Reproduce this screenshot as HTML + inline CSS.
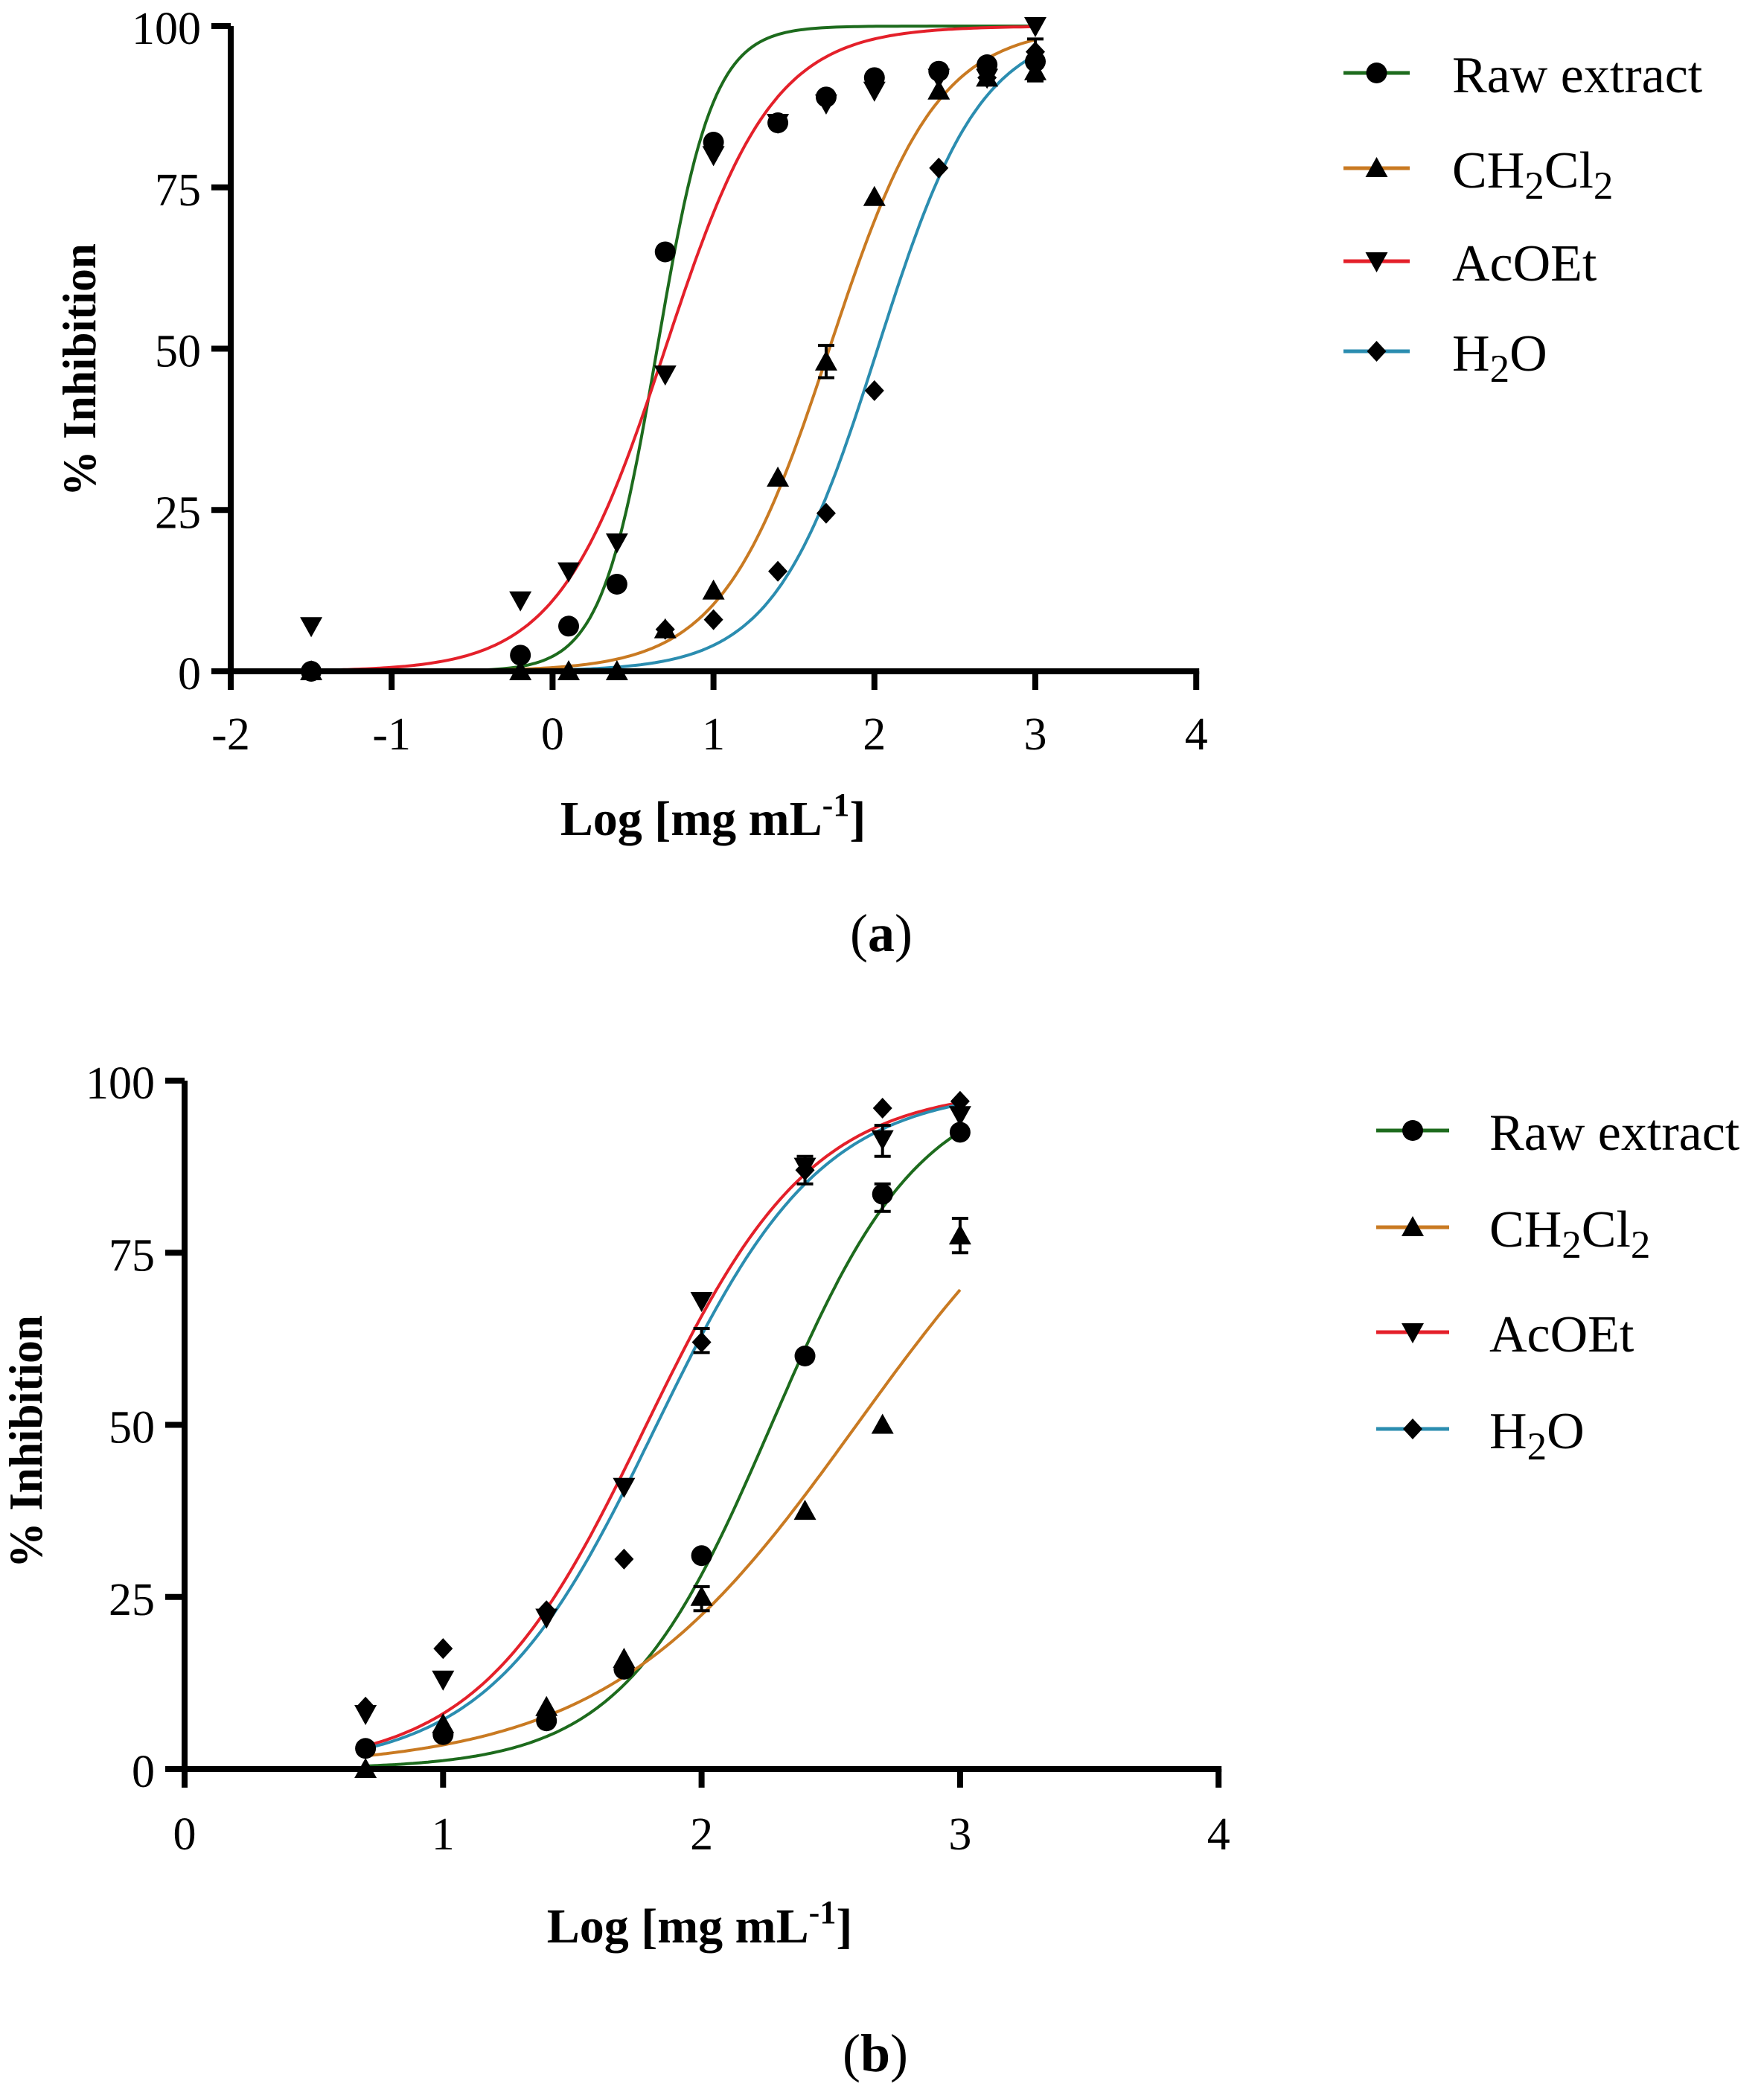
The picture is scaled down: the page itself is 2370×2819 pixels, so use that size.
<!DOCTYPE html>
<html><head><meta charset="utf-8"><style>
html,body{margin:0;padding:0;background:#fff;}
svg{display:block;}
text{font-family:"Liberation Serif",serif;fill:#000;}
</style></head><body>
<svg id="s" width="2370" height="2819" viewBox="0 0 2370 2819" xmlns="http://www.w3.org/2000/svg">
<rect width="2370" height="2819" fill="#fff"/>
</svg>
<script>
var NS="http://www.w3.org/2000/svg",S=document.getElementById('s');
function el(t,a,txt){var e=document.createElementNS(NS,t);for(var k in a)e.setAttribute(k,a[k]);if(txt!=null)e.textContent=txt;S.appendChild(e);return e;}
var C={g:"#1d6b1d",o:"#c97a22",r:"#e4202a",t:"#2b8db0"};
function marker(type,x,y){
 if(type=='c')el('circle',{cx:x,cy:y,r:14,fill:'#000'});
 else if(type=='u')el('polygon',{points:(x)+','+(y-15)+' '+(x+15)+','+(y+12)+' '+(x-15)+','+(y+12),fill:'#000'});
 else if(type=='d')el('polygon',{points:(x-15)+','+(y-12)+' '+(x+15)+','+(y-12)+' '+(x)+','+(y+15),fill:'#000'});
 else el('polygon',{points:x+','+(y-14)+' '+(x+13)+','+y+' '+x+','+(y+14)+' '+(x-13)+','+y,fill:'#000'});
}
function panel(P){
 var X=function(v){return P.x0+(v-P.xmin)*P.ux},Y=function(p){return P.y0-p*P.uy};
 P.curves.forEach(function(c){
  var d='';for(var i=0;i<=200;i++){var v=c.a+(c.b-c.a)*i/200;var p=c.top/(1+Math.pow(10,(c.ec-v)*c.h));d+=(i?'L':'M')+X(v).toFixed(1)+','+Y(p).toFixed(1);}
  el('path',{d:d,fill:'none',stroke:c.col,'stroke-width':4});
 });
 var xa=X(P.xmin),xb=X(P.xmax);
 el('line',{x1:xa,y1:Y(100),x2:xa,y2:P.y0+25,stroke:'#000','stroke-width':8});
 el('line',{x1:xa-26,y1:P.y0,x2:xb+4,y2:P.y0,stroke:'#000','stroke-width':8});
 [0,25,50,75,100].forEach(function(p){
  el('line',{x1:xa-26,y1:Y(p),x2:xa,y2:Y(p),stroke:'#000','stroke-width':8});
  el('text',{x:xa-40,y:Y(p)+24,'text-anchor':'end','font-size':62},String(p));
 });
 for(var v=P.xmin;v<=P.xmax;v++){
  el('line',{x1:X(v),y1:P.y0,x2:X(v),y2:P.y0+25,stroke:'#000','stroke-width':8});
  el('text',{x:X(v),y:P.y0+P.lx,'text-anchor':'middle','font-size':62},String(v));
 }
 P.err.forEach(function(e){var x=X(e[0]);
  el('line',{x1:x,y1:Y(e[1]),x2:x,y2:Y(e[2]),stroke:'#000','stroke-width':4});
  el('line',{x1:x-11,y1:Y(e[1]),x2:x+11,y2:Y(e[1]),stroke:'#000','stroke-width':4});
  el('line',{x1:x-11,y1:Y(e[2]),x2:x+11,y2:Y(e[2]),stroke:'#000','stroke-width':4});
 });
 P.pts.forEach(function(s){s.d.forEach(function(q){marker(s.m,X(q[0]),Y(q[1]));});});
 var t=el('text',{x:0,y:0,'font-size':64,'font-weight':'bold','text-anchor':'middle',transform:'translate('+P.ytx+','+P.yty+') rotate(-90)',textLength:340,lengthAdjust:'spacingAndGlyphs'});
 t.textContent='% Inhibition';
 var xt=el('text',{x:P.xtx,y:P.xty,'font-size':66,'font-weight':'bold','text-anchor':'middle'});
 xt.innerHTML='Log [mg mL<tspan dy="-26" font-size="44">-1</tspan><tspan dy="26">]</tspan>';
 el('text',{x:P.labx,y:P.laby,'font-size':72,'text-anchor':'middle'}).innerHTML='(<tspan font-weight="bold">'+P.lab+'</tspan>)';
 var L=P.leg,cols=[C.g,C.o,C.r,C.t],ms=['c','u','d','m'];
 for(var i=0;i<4;i++){var yy=L.ys[i];
  el('line',{x1:L.x1,y1:yy,x2:L.x2,y2:yy,stroke:cols[i],'stroke-width':5});
  marker(ms[i],(L.x1+L.x2)/2,yy);
  var tx=el('text',{x:L.tx,y:yy+26,'font-size':70});
  if(i==0)tx.textContent='Raw extract';
  else if(i==1)tx.innerHTML='CH<tspan dy="15" font-size="53">2</tspan><tspan dy="-15">Cl</tspan><tspan dy="15" font-size="53">2</tspan>';
  else if(i==2)tx.textContent='AcOEt';
  else tx.innerHTML='H<tspan dy="15" font-size="53">2</tspan><tspan dy="-15">O</tspan>';
 }
}
panel({x0:310,xmin:-2,xmax:4,ux:216.2,y0:902,uy:8.67,lx:105,
 ytx:128,yty:497,xtx:958,xty:1122,labx:1184,laby:1278,lab:'a',
 leg:{x1:1805,x2:1894,tx:1951,ys:[98,226,351,472]},
 curves:[{a:-1.5,b:3,top:100,ec:0.65,h:2.5,col:C.g},{a:-1.5,b:3,top:100,ec:1.72,h:1.3,col:C.o},
   {a:-1.5,b:3,top:100,ec:0.7,h:1.3,col:C.r},{a:-1.5,b:3,top:100,ec:2.02,h:1.35,col:C.t}],
 err:[[1.7,45.5,50.5],[3,91.5,98]],
 pts:[{m:'u',d:[[-1.5,0],[-0.2,0],[0.1,0],[0.4,0],[0.7,6.5],[1,12.5],[1.4,30],[1.7,48],[2,73.5],[2.4,90],[2.7,92],[3,93]]},
  {m:'m',d:[[0.7,6.5],[1,8],[1.4,15.5],[1.7,24.5],[2,43.5],[2.4,78],[2.7,92],[3,96]]},
  {m:'d',d:[[-1.5,7],[-0.2,11],[0.1,15.5],[0.4,20],[0.7,46],[1,80],[1.4,85],[1.7,88],[2,90],[2.4,92],[2.7,92],[3,100]]},
  {m:'c',d:[[-1.5,0],[-0.2,2.5],[0.1,7],[0.4,13.5],[0.7,65],[1,82],[1.4,85],[1.7,89],[2,92],[2.4,93],[2.7,94],[3,94.5]]}]
});
panel({x0:248,xmin:0,xmax:4,ux:347.3,y0:2377,uy:9.25,lx:108,
 ytx:56,yty:1937,xtx:940,xty:2610,labx:1176,laby:2783,lab:'b',
 leg:{x1:1849,x2:1947,tx:2001,ys:[1519,1649,1790,1920]},
 curves:[{a:0.7,b:3,top:100,ec:2.27,h:1.5,col:C.g},{a:0.7,b:3,top:100,ec:2.6,h:0.9,col:C.o},
   {a:0.7,b:3,top:99,ec:1.78,h:1.35,col:C.r},{a:0.7,b:3,top:99,ec:1.82,h:1.35,col:C.t}],
 err:[[2.7,81,85],[2,23,26.5],[3,75,80],[2.4,85,89],[2.7,89,93.5],[2,60.5,64]],
 pts:[{m:'u',d:[[0.7,0],[1,6.5],[1.4,9],[1.7,16],[2,25],[2.4,37.5],[2.7,50],[3,77.5]]},
  {m:'m',d:[[0.7,9],[1,17.5],[1.4,23],[1.7,30.5],[2,62],[2.4,87],[2.7,96],[3,97]]},
  {m:'d',d:[[0.7,8],[1,13],[1.4,22],[1.7,41],[2,68],[2.4,87.5],[2.7,91.5],[3,95]]},
  {m:'c',d:[[0.7,3],[1,5],[1.4,7],[1.7,14.5],[2,31],[2.4,60],[2.7,83.5],[3,92.5]]}]
});
</script>
</body></html>
